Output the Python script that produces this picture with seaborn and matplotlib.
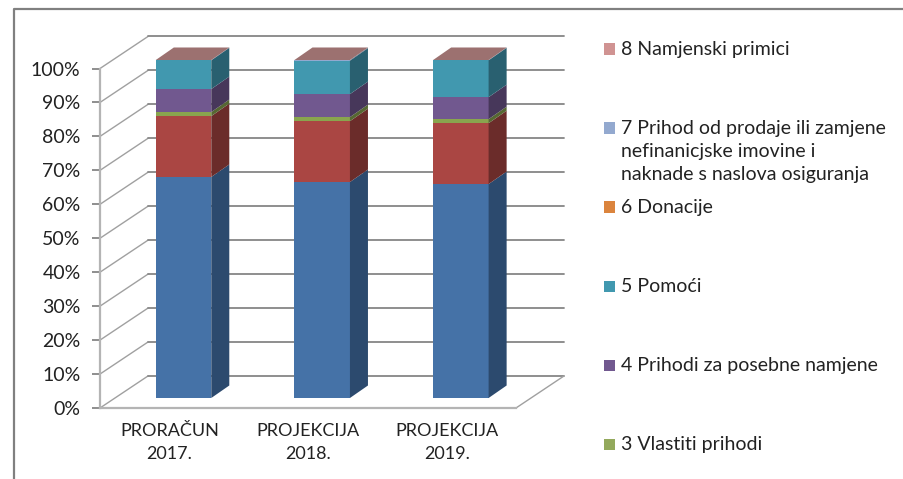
import matplotlib
matplotlib.use('Agg')
import matplotlib.pyplot as plt
from matplotlib.patches import Polygon, Rectangle
from matplotlib.lines import Line2D
import seaborn as sns
import pandas as pd

years = ['PRORAČUN\n2017.', 'PROJEKCIJA\n2018.', 'PROJEKCIJA\n2019.']
# the legend of the original is cut off, series 1 and 2 are not named there
series = ['1', '2', '3', '4', '5', '6', '7', '8']
s1 = [65.4, 63.9, 63.3]
s2 = [18.0, 18.0, 18.0]
s3 = [1.2, 1.2, 1.2]
s4 = [6.8, 6.8, 6.5]
s5 = [8.5, 9.9, 10.9]
s6 = [0.0, 0.0, 0.0]
s7 = [0.1, 0.2, 0.1]
s8 = [0.0, 0.0, 0.0]
legend_series = ['8 Namjenski primici',
                 '7 Prihod od prodaje ili zamjene\nnefinanicjske imovine i\nnaknade s naslova osiguranja',
                 '6 Donacije', '5 Pomoći', '4 Prihodi za posebne namjene', '3 Vlastiti prihodi']
legend_colors = ['#D09392', '#93A9CF', '#DB843D', '#4198AF', '#71588F', '#93A95C']

front = ['#4572A7', '#AA4643', '#89A54E', '#71588F', '#4198AF', '#DB843D', '#93A9CF', '#9C7070']
side = ['#2C4A6E', '#6B2C2A', '#566832', '#47375A', '#296070', '#8A5326', '#5F6E87', '#6E4F4F']
top_color = '#9C7170'

values = [s1, s2, s3, s4, s5, s6, s7, s8]
rows = []
for i, name in enumerate(series):
    for j, year in enumerate(years):
        rows.append({'year': year, 'series': name, 'top': sum(v[j] for v in values[:i + 1])})
df = pd.DataFrame(rows)

W, H = 904, 479
sns.set_theme(style='white')
plt.rcParams['font.family'] = ['Lato', 'DejaVu Sans']
text_color = '#222222'

fig = plt.figure(figsize=(W / 100, H / 100), dpi=100)


def box(x0, y0, x1, y1):
    # pixel box (y from the top) to figure fractions
    return [x0 / W, 1 - y1 / H, (x1 - x0) / W, (y1 - y0) / H]


# frame of the chart area
fig.add_artist(Line2D([14 / W, 14 / W, 1], [0, 1 - 9 / H, 1 - 9 / H], color='#808080', lw=1.6))

# front plane with the axis
ax = fig.add_axes(box(100, 68.5, 516, 408))
ax.set_xlim(-0.5, 2.5)
ax.set_ylim(0, 100)
ax.patch.set_alpha(0)
depth_x, depth_y = 0.346, 9.43
for v in range(0, 101, 10):
    ax.plot([-0.5, -0.5 + depth_x], [v, v + depth_y], color='#A0A0A0', lw=1, clip_on=False)
    ax.plot([-0.5 + depth_x, 2.5 + depth_x], [v + depth_y, v + depth_y], color='#868686', lw=1.3, clip_on=False)
ax.plot([2.5, 2.5 + depth_x], [0, depth_y], color='#A0A0A0', lw=1, clip_on=False)
ax.set_yticks(range(0, 101, 10))
ax.set_yticklabels([f'{v}%' for v in range(0, 101, 10)], fontsize=14, color=text_color)
ax.set_xticks(range(3))
ax.set_xticklabels(years, fontsize=13, color=text_color, linespacing=1.5)
ax.set_xticks([-0.5, 0.5, 1.5, 2.5], minor=True)
ax.tick_params(axis='x', which='major', length=0, pad=11)
ax.tick_params(axis='x', which='minor', length=5, width=1.2, color='#868686')
ax.tick_params(axis='y', length=6, width=1.3, color='#868686', pad=8, left=True)
for name, spine in ax.spines.items():
    spine.set_visible(name in ('left', 'bottom'))
    spine.set_color('#B4B4B4')
    spine.set_linewidth(1.6)

# bars sit a bit behind the front plane
bx = fig.add_axes(box(114.2, 60, 530.2, 398))
bx.patch.set_alpha(0)
sns.barplot(data=df, x='year', y='top', hue='series', hue_order=series[::-1], dodge=False,
            palette=dict(zip(series, front)), saturation=1, width=0.4, legend=False,
            edgecolor='none', linewidth=0, ax=bx)
bx.set_xlim(-0.5, 2.5)
bx.set_ylim(0, 100)
bx.axis('off')

half = 0.2
dx, dy = 0.13, 3.7
for j in range(3):
    base = 0
    for i in range(len(series)):
        up = base + values[i][j]
        if values[i][j] > 0:
            r = j + half
            bx.add_patch(Polygon([(r, base), (r + dx, base + dy), (r + dx, up + dy), (r, up)],
                                 facecolor=side[i], edgecolor='none', clip_on=False))
        base = up
    bx.add_patch(Polygon([(j - half, base), (j - half + dx, base + dy),
                          (j + half + dx, base + dy), (j + half, base)],
                         facecolor=top_color, edgecolor='none', clip_on=False))

# legend, cut off in the original, so only six entries
for i, (label, color) in enumerate(zip(legend_series, legend_colors)):
    y = 49 + i * 79
    fig.add_artist(Rectangle((603.5 / W, 1 - (y + 5.5) / H), 11 / W, 11 / H, facecolor=color,
                             edgecolor='none', transform=fig.transFigure))
    fig.text(621 / W, 1 - (y - 8) / H, label, fontsize=14, color=text_color, va='top', ha='left',
             linespacing=1.42)

fig.savefig('out.png', dpi=100, facecolor='white')
